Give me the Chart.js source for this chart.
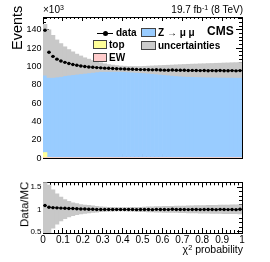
<!DOCTYPE html>
<html><head><meta charset="utf-8">
<script src="https://cdn.jsdelivr.net/npm/chart.js@4.4.0/dist/chart.umd.min.js"></script>
<style>
html,body{margin:0;padding:0;background:#fff;width:270px;height:262px;overflow:hidden;}
#wrap{position:relative;width:270px;height:262px;font-family:"Liberation Sans",Arial,sans-serif;color:#000;}
canvas{position:absolute;left:0;}
.t{position:absolute;white-space:nowrap;line-height:1;}
.b{font-weight:bold;}
.box{position:absolute;border:1px solid #444;box-sizing:border-box;}
.rot{position:absolute;white-space:nowrap;line-height:1;transform-origin:0 0;transform:rotate(-90deg) translateY(-50%);}
sup{font-size:70%;vertical-align:0;position:relative;top:-0.45em;}
</style></head><body>
<div id="wrap">
<canvas id="cTop" width="270" height="171" style="top:0"></canvas>
<canvas id="cRatio" width="270" height="91" style="top:171px"></canvas>

<div class="t" style="left:43px;top:5px;font-size:10px;">×10<sup>3</sup></div>
<div class="t" style="right:27px;top:5px;font-size:10px;">19.7 fb<sup>-1</sup> (8 TeV)</div>
<div class="t b" style="left:207px;top:25px;font-size:12px;">CMS</div>

<div style="position:absolute;left:97px;top:33px;width:16px;height:1px;background:#000;"></div>
<div style="position:absolute;left:103px;top:31px;width:5px;height:5px;border-radius:50%;background:#000;"></div>
<div class="t b" style="left:116px;top:28px;font-size:10px;">data</div>
<div class="box" style="left:93px;top:40px;width:14px;height:9px;background:#ffff99;"></div>
<div class="t b" style="left:109px;top:40px;font-size:10px;">top</div>
<div class="box" style="left:93px;top:53px;width:14px;height:9px;background:#ffcccc;"></div>
<div class="t b" style="left:109px;top:53px;font-size:10px;">EW</div>
<div class="box" style="left:141px;top:28px;width:15px;height:9px;background:#99ccff;"></div>
<div class="t b" style="left:158px;top:28px;font-size:10px;">Z → μ μ</div>
<div class="box" style="left:141px;top:41px;width:15px;height:9px;background:#cccccc;"></div>
<div class="t b" style="left:158px;top:41px;font-size:10px;">uncertainties</div>

<div class="rot" style="left:17px;top:50px;font-size:14.5px;">Events</div>
<div class="rot" style="left:25px;top:227px;font-size:11.5px;">Data/MC</div>
<div class="t" style="right:27px;top:244px;font-size:10.5px;">χ<sup>2</sup> probability</div>
</div>
<script>
// ---- data (events in units of 10^3) ----
const binCenters = [0.01,0.03,0.05,0.07,0.09,0.11,0.13,0.15,0.17,0.19,
  0.21,0.23,0.25,0.27,0.29,0.31,0.33,0.35,0.37,0.39,
  0.41,0.43,0.45,0.47,0.49,0.51,0.53,0.55,0.57,0.59,
  0.61,0.63,0.65,0.67,0.69,0.71,0.73,0.75,0.77,0.79,
  0.81,0.83,0.85,0.87,0.89,0.91,0.93,0.95,0.97,0.99];
const dataK = [139.5,115.5,111.0,108.0,106.0,104.5,103.2,102.2,101.3,100.6,
  100.0,99.5,99.1,98.8,98.5,98.2,98.0,97.8,97.6,97.4,
  97.2,97.1,96.9,96.8,96.6,96.6,96.4,96.3,96.4,96.1,
  96.0,95.9,96.1,95.8,95.8,95.9,95.6,95.7,95.6,95.5,
  95.6,95.4,95.5,95.3,95.6,95.4,95.3,95.5,95.2,95.5];
const zmumuK = [112.0,113.0,110.5,108.5,107.0,105.5,104.3,103.3,102.4,101.6,
  100.9,100.4,99.9,99.4,99.1,98.7,98.2,97.9,97.7,97.4,
  97.2,96.9,96.8,96.6,96.5,96.5,96.4,96.3,96.3,96.2,
  96.1,96.0,95.9,95.8,95.8,95.7,95.7,95.6,95.6,95.5,
  95.5,95.4,95.4,95.3,95.3,95.3,95.2,95.2,95.2,95.1];
const topK = [5.5,0.6,0.3,0.2,0.2,0.2,0.1,0.1,0.1,0.1,
  0.1,0.1,0.1,0.1,0.1,0.1,0.1,0.1,0.1,0.1,
  0.1,0.1,0.1,0.1,0.1,0.1,0.1,0.1,0.1,0.1,
  0.1,0.1,0.1,0.1,0.1,0.1,0.1,0.1,0.1,0.1,
  0.1,0.1,0.1,0.1,0.1,0.1,0.1,0.1,0.1,0.1];
const ewK = [0.6,0.2,0.1,0.1,0.1,0.1,0.1,0.1,0.1,0.1,
  0.1,0.1,0.1,0.1,0.1,0.1,0.1,0.1,0.1,0.1,
  0.1,0.1,0.1,0.1,0.1,0.1,0.1,0.1,0.1,0.1,
  0.1,0.1,0.1,0.1,0.1,0.1,0.1,0.1,0.1,0.1,
  0.1,0.1,0.1,0.1,0.1,0.1,0.1,0.1,0.1,0.1];
const uncLowK = [90.5,88.0,88.0,88.5,89.0,90.0,90.5,91.0,91.5,92.0,
  92.5,93.0,93.5,94.0,94.5,94.5,94.5,94.5,94.5,94.5,
  94.3,94.0,93.8,93.5,93.2,93.0,92.6,92.2,91.8,91.4,
  91.0,90.6,90.2,89.8,89.5,89.2,89.0,88.8,88.7,88.6,
  88.5,88.4,88.3,88.3,88.2,88.2,88.1,88.1,88.0,88.0];
const uncHighK = [146.0,140.0,134.0,129.0,125.0,121.5,118.5,116.0,113.5,111.5,
  109.5,108.0,106.5,105.0,104.0,103.0,102.0,101.5,101.0,100.5,
  100.3,100.0,100.0,100.0,100.0,100.2,100.4,100.6,100.8,101.0,
  101.2,101.4,101.6,101.8,102.0,102.2,102.4,102.6,102.7,102.9,
  103.0,103.2,103.3,103.5,103.6,103.8,103.9,104.1,104.2,104.4];
const ratio = [1.09,1.05,1.04,1.035,1.03,1.025,1.02,1.02,1.015,1.01,
  1.01,1.005,1.005,1.0,1.0,1.0,0.998,1.0,0.998,1.0,
  0.998,1.0,1.0,0.995,1.0,1.0,0.998,0.995,1.002,0.998,
  0.998,0.996,1.004,0.998,0.998,1.0,0.996,1.0,0.998,0.996,
  1.0,0.997,1.0,0.995,1.002,0.998,0.996,1.0,0.995,1.003];
const ratioUncLow = [0.45,0.48,0.58,0.67,0.74,0.79,0.83,0.86,0.88,0.90,
  0.91,0.92,0.93,0.94,0.95,0.955,0.96,0.96,0.965,0.965,
  0.965,0.96,0.96,0.955,0.95,0.95,0.945,0.945,0.94,0.94,
  0.935,0.935,0.933,0.93,0.928,0.926,0.924,0.922,0.92,0.918,
  0.916,0.914,0.912,0.91,0.908,0.906,0.905,0.903,0.902,0.90];
const ratioUncHigh = [1.62,1.55,1.44,1.35,1.28,1.22,1.18,1.15,1.13,1.11,
  1.10,1.09,1.08,1.07,1.06,1.055,1.05,1.045,1.04,1.04,
  1.04,1.04,1.045,1.05,1.05,1.055,1.06,1.06,1.065,1.065,
  1.07,1.07,1.072,1.074,1.076,1.078,1.08,1.082,1.084,1.086,
  1.088,1.09,1.092,1.094,1.096,1.098,1.10,1.102,1.104,1.106];
const xTickLabels = ['0','0.1','0.2','0.3','0.4','0.5','0.6','0.7','0.8','0.9','1'];
const yTickLabels = ['0','20','40','60','80','100','120','140'];
const ratioTickLabels = ['0.5','1','1.5'];

// ---- helpers ----
const FONT = 'Liberation Sans';
const pts = (ys) => binCenters.map((x, i) => ({x: x, y: ys[i]}));
const band = (lo, hi) => binCenters.map((x, i) => ({x: x, y: [lo[i], hi[i]]}));
const barBase = {grouped: false, categoryPercentage: 1, barPercentage: 1, borderWidth: 0};

function axis(position, weight, min, max, step, tl, o) {
  o = o || {};
  const a = {
    type: 'linear', position: position, weight: weight, min: min, max: max, offset: false, z: 1,
    grid: {display: true, offset: false, drawOnChartArea: false, drawTicks: true, tickLength: tl, tickColor: '#000', tickWidth: 1},
    border: {display: true, color: '#000', width: 1},
    ticks: {display: !!o.labels, stepSize: step, includeBounds: false, autoSkip: false, maxRotation: 0, minRotation: 0,
      padding: o.pad || 0, color: '#000', font: {family: FONT, size: o.size || 9}, callback: o.labels || (() => '')},
    afterFit: (s) => { if (s.isHorizontal()) s.height = o.thick || 0; else s.width = o.thick || 0; }
  };
  if (o.stacked) a.stacked = true;
  return a;
}
const common = {
  responsive: false, animation: false, devicePixelRatio: 1, events: [],
  plugins: {legend: {display: false}, tooltip: {enabled: false}, title: {display: false}}
};

// ---- main panel ----
new Chart(document.getElementById('cTop'), {
  type: 'bar',
  data: {datasets: [
    {type: 'line', data: pts(dataK), showLine: false, pointRadius: 1.7, pointBackgroundColor: '#000', pointBorderWidth: 0, order: 0},
    Object.assign({data: band(dataK.map(v => v - 0.5), dataK.map(v => v + 0.5)), backgroundColor: '#000', stack: 'data', inflateAmount: 0, order: 1}, barBase),
    Object.assign({data: band(uncLowK, uncHighK), backgroundColor: '#c8c8c8', stack: 'unc', order: 2}, barBase),
    Object.assign({data: pts(ewK), backgroundColor: '#ffcccc', stack: 'mc', order: 3}, barBase),
    Object.assign({data: pts(topK), backgroundColor: '#ffff99', stack: 'mc', order: 3}, barBase),
    Object.assign({data: pts(zmumuK), backgroundColor: '#99ccff', stack: 'mc', order: 3}, barBase)
  ]},
  options: Object.assign({}, common, {
    layout: {padding: {left: 0, right: 28, top: 17, bottom: 0}},
    scales: {
      x: axis('bottom', 1, 0, 1, 0.1, -4),
      xMinor: axis('bottom', 0, 0, 1, 0.02, -2),
      xTop: axis('top', 1, 0, 1, 0.1, -4),
      xTopMinor: axis('top', 0, 0, 1, 0.02, -2),
      y: axis('left', 1, 0, 154, 20, -6, {labels: (v) => yTickLabels[Math.round(v / 20)], pad: 7.5, size: 9, thick: 43, stacked: true}),
      yMinor: axis('left', 0, 0, 154, 4, -3),
      yRight: axis('right', 1, 0, 154, 20, -6),
      yRightMinor: axis('right', 0, 0, 154, 4, -3)
    }
  })
});

// ---- ratio panel ----
new Chart(document.getElementById('cRatio'), {
  type: 'bar',
  data: {datasets: [
    {type: 'line', data: pts(ratio), showLine: false, pointRadius: 1.7, pointBackgroundColor: '#000', pointBorderWidth: 0, order: 0},
    Object.assign({data: band(ratio.map(v => v - 0.01), ratio.map(v => v + 0.01)), backgroundColor: '#000', stack: 'data', inflateAmount: 0, order: 1}, barBase),
    Object.assign({data: band(ratioUncLow, ratioUncHigh), backgroundColor: '#c8c8c8', stack: 'unc', order: 2}, barBase)
  ]},
  options: Object.assign({}, common, {
    layout: {padding: {left: 0, right: 28, top: 5, bottom: 0}},
    scales: {
      x: axis('bottom', 1, 0, 1, 0.1, -5, {labels: (v) => xTickLabels[Math.round(v * 10)], pad: 6.5, size: 10, thick: 29}),
      xMinor: axis('bottom', 0, 0, 1, 0.02, -3),
      xTop: axis('top', 1, 0, 1, 0.1, -5),
      xTopMinor: axis('top', 0, 0, 1, 0.02, -3),
      y: axis('left', 1, 0.47, 1.61, 0.5, -5, {labels: (v) => ratioTickLabels[Math.round((v - 0.5) * 2)], pad: 6.5, size: 8, thick: 43, stacked: true}),
      yMinor: axis('left', 0, 0.47, 1.61, 0.1, -3),
      yRight: axis('right', 1, 0.47, 1.61, 0.5, -5),
      yRightMinor: axis('right', 0, 0.47, 1.61, 0.1, -3)
    }
  })
});
</script>
</body></html>
